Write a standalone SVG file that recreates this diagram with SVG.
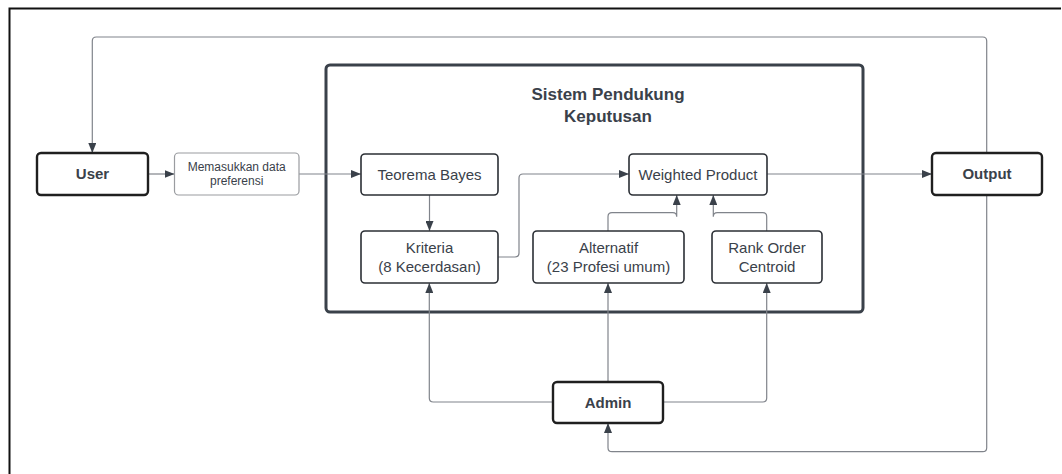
<svg xmlns="http://www.w3.org/2000/svg" width="1062" height="474" viewBox="0 0 1062 474">
<style>
.t{font-family:"Liberation Sans",Arial,sans-serif;fill:#3a414a;text-anchor:middle}
.n{font-size:15px}
.b{font-size:15px;font-weight:bold}
.s{font-size:12px}
.box{fill:#fff;stroke:#2b2f35;stroke-width:1.6}
.bold{fill:#fff;stroke:#1f1f1f;stroke-width:2.4}
.light{fill:#fff;stroke:#9a9ca0;stroke-width:1.2}
.c{fill:none;stroke:#80848b;stroke-width:1.2;marker-end:url(#ah)}
</style>
<defs>
<marker id="ah" viewBox="0 0 10 8" markerWidth="10" markerHeight="8" refX="10" refY="4" orient="auto" markerUnits="userSpaceOnUse">
<path d="M0,0 L10,4 L0,8 z" fill="#3a414a"/>
</marker>
</defs>
<rect width="1062" height="474" fill="#fff"/>
<path d="M9.5,474 V8.5 H1061" fill="none" stroke="#111" stroke-width="2"/>
<g id="spk">
<rect x="326" y="65" width="537" height="247" rx="4" fill="none" stroke="#3a414a" stroke-width="3"/>
<text class="t" x="608" y="100" style="font-size:17px;font-weight:bold">Sistem Pendukung</text>
<text class="t" x="608" y="122" style="font-size:17px;font-weight:bold">Keputusan</text>
</g>
<g id="connectors">
<path class="c" d="M148,174 H174.5"/>
<path class="c" d="M299,174 H361"/>
<path class="c" d="M429.5,195 V231"/>
<path class="c" d="M498,257 H515 Q519,257 519,253 V178 Q519,174 523,174 H629"/>
<path class="c" d="M608,231 V216.7 Q608,212.7 612,212.7 H672.7 Q676.7,212.7 676.7,216.7 V195"/>
<path class="c" d="M766.7,231 V216.7 Q766.7,212.7 762.7,212.7 H717.3 Q713.3,212.7 713.3,216.7 V195"/>
<path class="c" d="M767,174 H932"/>
<path class="c" d="M553,402 H433.3 Q429.3,402 429.3,398 V283"/>
<path class="c" d="M608,382 V283"/>
<path class="c" d="M663,402 H762.7 Q766.7,402 766.7,398 V283"/>
<path class="c" d="M986.7,153 V41 Q986.7,37 982.7,37 H96.3 Q92.3,37 92.3,41 V153"/>
<path class="c" d="M986.7,195 V447.7 Q986.7,451.7 982.7,451.7 H612 Q608,451.7 608,447.7 V423"/>
</g>
<g id="user">
<rect class="bold" x="37" y="153" width="111" height="42" rx="4"/>
<text class="t b" x="92.5" y="179">User</text>
</g>
<g id="memasukkan">
<rect class="light" x="174.5" y="153" width="124.5" height="42" rx="4"/>
<text class="t s" x="236.7" y="171">Memasukkan data</text>
<text class="t s" x="236.7" y="185">preferensi</text>
</g>
<g id="teorema">
<rect class="box" x="361" y="154" width="137" height="41" rx="4"/>
<text class="t n" x="429.5" y="179.5">Teorema Bayes</text>
</g>
<g id="weighted">
<rect class="box" x="629" y="154" width="138" height="41" rx="4"/>
<text class="t n" x="698" y="179.5">Weighted Product</text>
</g>
<g id="kriteria">
<rect class="box" x="361" y="231" width="137" height="52" rx="4"/>
<text class="t n" x="429.5" y="253">Kriteria</text>
<text class="t n" x="429.5" y="272">(8 Kecerdasan)</text>
</g>
<g id="alternatif">
<rect class="box" x="533" y="231" width="151" height="52" rx="4"/>
<text class="t n" x="608.5" y="253">Alternatif</text>
<text class="t n" x="608.5" y="272">(23 Profesi umum)</text>
</g>
<g id="rank">
<rect class="box" x="712" y="231" width="110" height="52" rx="4"/>
<text class="t n" x="767" y="253">Rank Order</text>
<text class="t n" x="767" y="272">Centroid</text>
</g>
<g id="output">
<rect class="bold" x="932" y="153" width="110" height="42" rx="4"/>
<text class="t b" x="987" y="179">Output</text>
</g>
<g id="admin">
<rect class="bold" x="553" y="382" width="110" height="41" rx="4"/>
<text class="t b" x="608" y="407.5">Admin</text>
</g>
</svg>
